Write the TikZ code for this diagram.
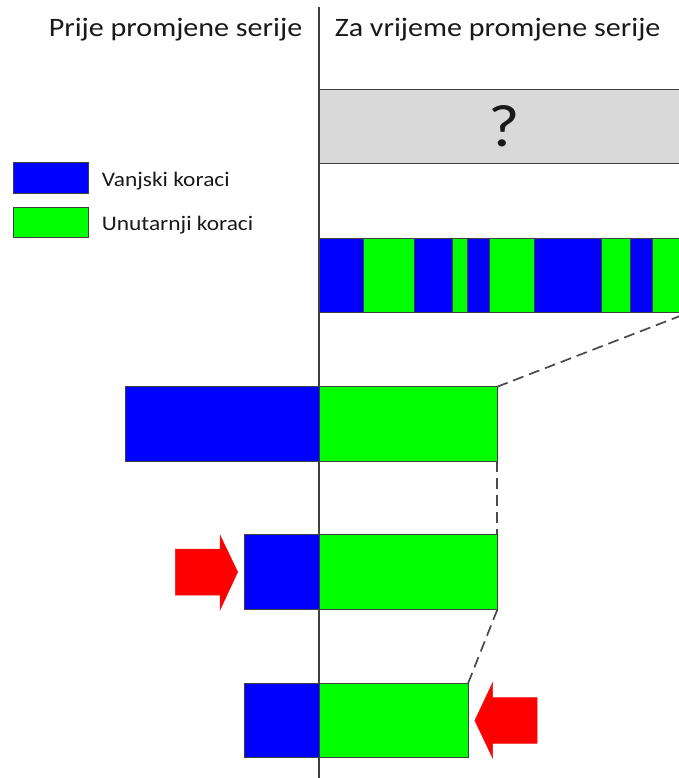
\documentclass[tikz,border=0pt]{standalone}
\usepackage{fontspec}
\setmainfont{Carlito}
\definecolor{vblue}{HTML}{0000FF}
\definecolor{ugreen}{HTML}{00FF00}
\definecolor{ared}{HTML}{FF0000}
\definecolor{qgray}{HTML}{D9D9D9}
\definecolor{edge}{HTML}{404040}
\definecolor{dashc}{HTML}{4A4A4A}
\newcommand\mystretch[1]{\scalebox{1.13}[1]{#1}}
\newcommand\segnode[6]{%
  \pgfmathsetmacro\segw{#4-#2}\pgfmathsetmacro\segh{#5-#3}%
  \node[box, fill=#6, minimum width=\segw pt, minimum height=\segh pt] (#1) at (#2,#3) {};}
\tikzset{
  box/.style={draw=edge, line width=0.9pt, inner sep=0pt, outer sep=0pt, anchor=north west},
  title/.style={font=\fontsize{26.6}{30}\selectfont, text=black!90, inner sep=0pt, anchor=base},
  legtext/.style={font=\fontsize{20.7}{24}\selectfont, text=black!90, inner sep=0pt, anchor=base west},
  zoomline/.style={draw=dashc, line width=1.7pt, dash pattern=on 11pt off 6pt},
  bigarrow/.style={fill=ared, draw=ared!80!gray, line width=0.5pt},
  divider/.style={draw=edge, line width=1.3pt}
}
\begin{document}
\begin{tikzpicture}[x=1pt,y=-1pt]
\useasboundingbox (0,0) rectangle (679,778);
\clip (0,0) rectangle (679,778);
% titles
\node[title] (t1) at (175.5,36.7) {\mystretch{Prije promjene serije}};
\node[title] (t2) at (497.6,36.7) {\mystretch{Za vrijeme promjene serije}};
% divider
\coordinate (vtop) at (319,7);
\coordinate (vbot) at (319,780);
\draw[divider] (vtop) -- (vbot);
% unknown box
\segnode{qbox}{319}{89.5}{690}{163.5}{qgray}
\node[font=\fontsize{60}{64}\selectfont, text=black!90, inner sep=0pt, anchor=base] (q) at (504,146.7) {\mystretch{?}};
% legend
\segnode{legb}{13}{162}{88}{193}{vblue}
\segnode{legg}{13}{207}{88}{237}{ugreen}
\node[legtext] (lt1) at (101.7,186) {\mystretch{Vanjski koraci}};
\node[legtext] (lt2) at (101.7,230.5) {\mystretch{Unutarnji koraci}};
% mixed bar
\segnode{s1}{319}{238.3}{363.8}{312.7}{vblue}
\segnode{s2}{363.8}{238.3}{414.9}{312.7}{ugreen}
\segnode{s3}{414.9}{238.3}{452.6}{312.7}{vblue}
\segnode{s4}{452.6}{238.3}{467.7}{312.7}{ugreen}
\segnode{s5}{467.7}{238.3}{489.5}{312.7}{vblue}
\segnode{s6}{489.5}{238.3}{534}{312.7}{ugreen}
\segnode{s7}{534}{238.3}{601}{312.7}{vblue}
\segnode{s8}{601}{238.3}{630.7}{312.7}{ugreen}
\segnode{s9}{630.7}{238.3}{652.7}{312.7}{vblue}
\segnode{s10}{652.7}{238.3}{690}{312.7}{ugreen}
% row 1
\segnode{r1b}{125.8}{386.7}{319}{461}{vblue}
\segnode{r1g}{319}{386.7}{497.3}{461}{ugreen}
% row 2
\segnode{r2b}{244.8}{534.7}{319}{609.7}{vblue}
\segnode{r2g}{319}{534.7}{497.3}{609.7}{ugreen}
% row 3
\segnode{r3b}{244.8}{683}{319}{757.7}{vblue}
\segnode{r3g}{319}{683}{468.2}{757.7}{ugreen}
% zoom lines
\coordinate (dend) at (680,316);
\draw[zoomline] (r1g.north east) -- (dend);
\draw[zoomline] (r1g.south east) -- (r2g.north east);
\draw[zoomline] (r2g.south east) -- (r3g.north east);
% red arrows
\draw[bigarrow] (175.3,549) -- (220,549) -- (220,535) -- (237.7,572) -- (220,610) -- (220,595) -- (175.3,595) -- cycle;
\draw[bigarrow] (537,697.7) -- (492.5,697.7) -- (492.5,683) -- (474.8,720.5) -- (492.5,757.7) -- (492.5,743.3) -- (537,743.3) -- cycle;
\end{tikzpicture}
\end{document}
